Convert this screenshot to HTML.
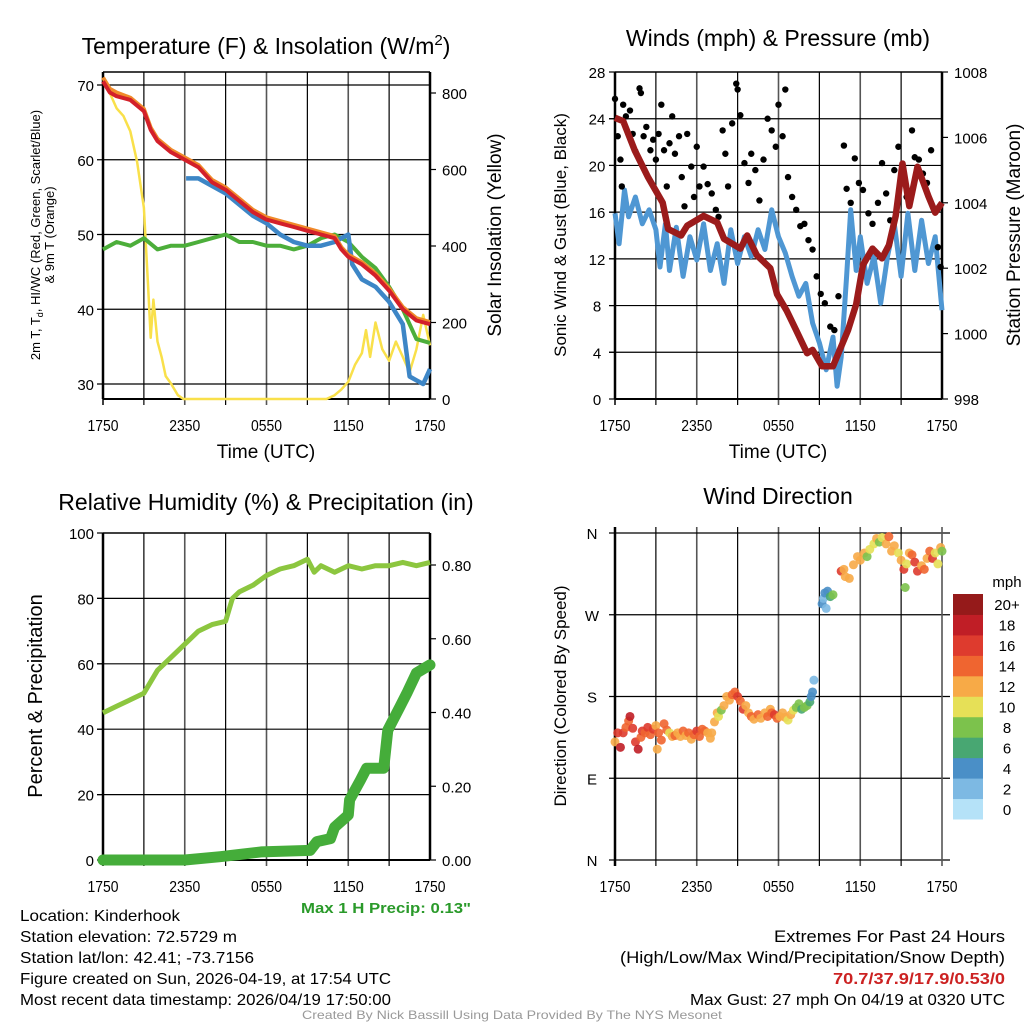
<!DOCTYPE html>
<html><head><meta charset="utf-8"><style>
html,body{margin:0;padding:0;background:#fff;}
svg{display:block;font-family:"Liberation Sans",sans-serif;}
</style></head><body>
<svg id="s" width="1024" height="1024" viewBox="0 0 1024 1024">
<g id="p1"></g>
<g id="p2"></g>
<g id="p3"></g>
<g id="p4"></g>
<g id="txt" lengthAdjust="spacingAndGlyphs">
<text x="20" y="921" font-size="16" textLength="160" lengthAdjust="spacingAndGlyphs">Location: Kinderhook</text>
<text x="20" y="942" font-size="16" textLength="217" lengthAdjust="spacingAndGlyphs">Station elevation: 72.5729 m</text>
<text x="20" y="963" font-size="16" textLength="234" lengthAdjust="spacingAndGlyphs">Station lat/lon: 42.41; -73.7156</text>
<text x="20" y="984" font-size="16" textLength="371" lengthAdjust="spacingAndGlyphs">Figure created on Sun, 2026-04-19, at 17:54 UTC</text>
<text x="20" y="1005" font-size="16" textLength="371" lengthAdjust="spacingAndGlyphs">Most recent data timestamp: 2026/04/19 17:50:00</text>
<text x="386" y="913" font-size="15" font-weight="bold" fill="#2a9a2a" text-anchor="middle" textLength="170" lengthAdjust="spacingAndGlyphs">Max 1 H Precip: 0.13"</text>
<text x="1005" y="942" font-size="17" text-anchor="end" textLength="231" lengthAdjust="spacingAndGlyphs">Extremes For Past 24 Hours</text>
<text x="1005" y="963" font-size="17" text-anchor="end" textLength="385" lengthAdjust="spacingAndGlyphs">(High/Low/Max Wind/Precipitation/Snow Depth)</text>
<text x="1005" y="984" font-size="16" font-weight="bold" fill="#cc2222" text-anchor="end" textLength="172" lengthAdjust="spacingAndGlyphs">70.7/37.9/17.9/0.53/0</text>
<text x="1005" y="1005" font-size="16" text-anchor="end" textLength="315" lengthAdjust="spacingAndGlyphs">Max Gust: 27 mph On 04/19 at 0320 UTC</text>
<text x="512" y="1019" font-size="12" fill="#999" text-anchor="middle" textLength="420" lengthAdjust="spacingAndGlyphs">Created By Nick Bassill Using Data Provided By The NYS Mesonet</text>
</g>
</svg>
<script>
// ---- Temperature panel data (hours since 1750 UTC) ----
const tT=[0,0.5,1,2,3,3.5,4,5,6,7,7.5,8,9,10,11,12,13,14,15,16,17,17.5,18,19,20,21,22,23,24];
const tempT=[70.5,69,68.5,68,66.5,64,62.5,61,60,59,58,57,56,54.5,53,52,51.5,51,50.5,50,49.5,48,47,46,44.5,42.5,40,38.5,38];
const t9m=[71,69.5,69,68.3,66.8,64.3,62.8,61.3,60.3,59.3,58.3,57.3,56.3,54.8,53.3,52.3,51.8,51.3,50.8,50.3,49.8,48.3,47.3,46.3,44.8,42.8,40.3,38.8,38.3];
const tHi=[6.1,7,8,9,10,11,12,13,14,15,16,17,17.5,18,18.3,19,20,21,22,22.5,23,23.5,24];
const hiwc=[57.5,57.5,56.5,55.5,54,52.5,51.5,50,49,48.5,48.5,49,49.5,50,46,44,43,41,38,31,30.5,30,32];
const tTd=[0,1,2,3,4,5,6,7,8,9,10,11,12,13,14,15,16,17,18,18.5,19,20,21,22,23,24];
const dewp=[48,49,48.5,49.5,48,48.5,48.5,49,49.5,50,49,49,48.5,48.5,48,48.5,49.5,50,49,48,47,45.5,43,40,36,35.5];
const tSol=[0,0.5,1,1.5,2,2.5,3,3.3,3.5,3.7,4,4.3,4.6,5,5.5,5.9,16.4,17,17.5,18,18.5,19,19.3,19.6,20,20.5,21,21.5,22,22.5,23,23.5,24];
const solar=[840,800,760,740,700,620,500,300,160,260,150,110,60,40,10,0,0,10,25,45,90,120,180,110,200,130,100,150,110,70,130,220,140];
// ---- Winds panel ----
const tWs=[0,0.3,0.7,1,1.5,2,2.5,3,3.3,3.7,4,4.5,5,5.5,6,6.5,7,7.5,8,8.5,9,9.5,10,10.5,11,11.5,12,12.5,13,13.5,14,14.5,15,15.5,16,16.3,16.6,17,17.3,17.7,18,18.5,19,19.5,20,20.5,21,21.5,22,22.5,23,23.5,24];
const wspd=[15.9,13.3,17.9,15.6,17.3,15,16.2,14.5,11.3,15,11,14.7,10.5,13.9,11.9,15,11,13.3,9.9,14.5,11.6,13.9,12.2,14.5,12.8,16.2,13.9,12.5,10.5,8.8,9.9,6.5,4.8,2.5,5.3,1.1,3.6,10.5,16.2,11,13.9,9.9,12.2,8.2,12.2,15,10.5,15.9,11,15.3,11.6,13.9,7.6];
const tG=[0,0.2,0.4,0.5,0.6,0.8,1.1,1.3,1.5,1.8,1.9,2.1,2.3,2.6,2.8,3,3.2,3.4,3.6,3.8,4,4.2,4.4,4.7,4.9,5.1,5.3,5.6,5.8,6,6.2,6.5,6.8,7.1,7.4,7.6,7.9,8.1,8.3,8.6,8.9,9,9.2,9.5,9.8,10,10.3,10.6,10.9,11.2,11.5,11.8,12,12.3,12.5,12.7,13,13.3,13.6,13.9,14.2,14.5,14.8,15.1,15.4,15.8,16.1,16.4,16.8,17,17.3,17.6,17.9,18.2,18.6,18.9,19.3,19.6,19.9,20.2,20.5,20.8,21.1,21.4,21.8,22,22.3,22.6,22.9,23.2,23.5,23.7,23.9];
const gust=[25.7,22.5,20.5,18.2,25.2,24.2,24.7,22.7,21.2,26.6,26.2,22.5,23.3,21.3,22.2,20.5,22.7,25.2,21.3,18.2,21.9,24.2,21,22.5,19,16.5,22.7,19.9,17.3,21.6,18.2,19.9,18.4,17.6,16.2,15.6,23,21,18.2,23.6,27,26.5,24.3,20.2,18.5,21,19.6,17,20.5,24,23,21.6,25.2,22.5,26.5,19,17.3,16.2,14.8,15,13.6,12.8,10.5,9,8.2,6.2,5.9,8.8,21.7,18,16.8,20.6,18.5,17.9,15.9,15,16.8,20.2,17.6,15.3,19.6,21.6,19.9,17.3,23,20.7,20.5,19.3,18.5,21.3,16.2,13,11.3];
const tP=[0,0.6,1.45,2.4,3.5,3.9,4.85,5.3,6.5,7.5,8,9.2,9.7,10.4,11.4,11.9,12.6,13.3,14.1,14.5,15.2,16,16.5,17.1,17.7,18.2,18.9,19.6,20.1,20.6,21.1,21.6,22.2,23,23.5,24];
const pres=[1006.6,1006.5,1005.6,1004.8,1004.0,1003.2,1003.0,1003.3,1003.6,1003.4,1002.9,1002.6,1003.0,1002.4,1002.0,1001.2,1000.7,1000.1,999.4,999.5,999.0,999.0,999.5,1000.1,1000.9,1002.1,1002.6,1002.3,1002.7,1003.6,1005.2,1003.9,1005.1,1004.2,1003.7,1004.0];
// ---- RH / precip panel ----
const tRH=[0,1,2,3,4,5,6,7,8,9,9.5,10,11,12,13,14,15,15.5,16,17,18,19,20,21,22,23,24];
const rh=[45,47,49,51,58,62,66,70,72,73,80,82,84,87,89,90,92,88,90,88,90,89,90,90,91,90,91];
const tPr=[0,6,8.6,10,11.6,15.2,15.7,16.7,17,18,18.1,18.9,19.35,20.6,20.9,21.8,22.3,23,24];
const precip=[0,0,0.009,0.015,0.022,0.026,0.05,0.058,0.089,0.122,0.163,0.217,0.249,0.249,0.352,0.416,0.452,0.507,0.529];
// ---- Wind direction panel ----
const tD=[0,0.2,0.4,0.6,0.8,1,1.1,1.3,1.5,1.7,1.9,2,2.2,2.4,2.6,2.8,3,3.1,3.2,3.4,3.6,3.8,4,4.2,4.4,4.6,4.8,5,5.2,5.4,5.6,5.8,6,6.2,6.4,6.6,6.8,7,7.1,7.3,7.5,7.6,7.8,8,8.2,8.4,8.6,8.8,9,9.2,9.4,9.6,9.8,10,10.2,10.5,10.7,11,11.2,11.4,11.5,11.7,11.9,12.1,12.3,12.5,12.7,12.9,13.1,13.3,13.5,13.7,13.9,14.1,14.3,14.4,14.5,14.6,15.2,15.3,15.4,15.5,15.6,15.8,16,16.6,16.8,16.9,17.2,17.5,17.8,18,18.3,18.5,18.7,19,19.2,19.4,19.6,19.9,20.1,20.3,20.5,20.8,21,21.2,21.3,21.4,21.6,21.8,22,22.2,22.5,22.7,22.9,23.1,23.3,23.5,23.7,23.9,24];
const dirDeg=[130,140,124,140,146,153,158,145,130,122,135,142,140,146,138,144,148,122,140,132,150,143,140,136,137,140,136,142,137,140,133,138,142,136,144,142,140,134,140,152,162,158,165,170,180,176,182,185,180,175,166,170,162,158,155,160,156,162,158,166,162,160,156,158,162,157,154,160,165,168,172,166,168,170,174,180,185,198,282,288,294,277,296,290,292,318,320,312,310,325,334,330,338,334,342,348,354,350,355,348,356,340,346,338,330,320,300,326,338,336,328,318,324,320,332,340,332,338,326,344,340];
const dirSpd=[13,17,18,16,14,15,19,17,16,18,15,16,14,17,15,16,12,12,14,14,15,14,10,13,14,13,12,14,12,14,12,15,16,14,14,15,13,12,12,12,12,10,8,12,12,13,14,14,16,14,16,12,13,14,12,14,12,13,15,12,14,16,14,12,13,12,10,12,10,9,8,7,8,8,7,4,4,2,4,3,4,2,4,7,8,16,12,13,12,12,12,12,13,8,10,10,12,8,11,12,14,12,13,11,12,17,8,10,12,14,16,16,12,14,12,14,16,11,10,12,8];
const spdColors=["#b5e2f8","#7db9e3","#4a8fc7","#48a772","#7cc24c","#e6e057","#f7aa47","#ef6530","#de3b2e","#c01e26","#951a1a"];
const spdLabels=["0","2","4","6","8","10","12","14","16","18","20+"];
const xTickLabels=["1750","2350","0550","1150","1750"];

const NS="http://www.w3.org/2000/svg";
function mk(parent,tag,attrs){const e=document.createElementNS(NS,tag);for(const k in attrs)e.setAttribute(k,attrs[k]);parent.appendChild(e);return e;}
function txt(parent,x,y,s,size,anchor,extra){const e=mk(parent,'text',Object.assign({x:x,y:y,'font-size':size,'text-anchor':anchor||'middle'},extra||{}));e.textContent=s;return e;}
function lin(a,b,c,d){return v=>c+(v-a)*(d-c)/(b-a);}
function path(xs,ys,fx,fy){return xs.map((t,i)=>(i?'L':'M')+fx(t).toFixed(1)+','+fy(ys[i]).toFixed(1)).join('');}

function frame(g,L,R,T,B,xs,hLines,fy){
  for(let h=3;h<24;h+=3){const x=xs(h);const ln=mk(g,'line',{x1:x,x2:x,y1:T,y2:B+6,stroke:(h%6==0?'#555':'#000'),'stroke-width':(h%6==0?1.6:1.2)});
    }
  hLines.forEach(v=>{const y=fy(v);const ln=mk(g,'line',{x1:L-6,x2:R,y1:y,y2:y,stroke:'#000','stroke-width':1.2});
    });
  const ax=mk(g,'line',{x1:L,x2:L,y1:T,y2:B,stroke:'#000','stroke-width':2.5});
  const bx=mk(g,'line',{x1:L,x2:R,y1:B,y2:B,stroke:'#000','stroke-width':2});
  const ax2=mk(g,'line',{x1:L,x2:L,y1:B,y2:B+6,stroke:'#000','stroke-width':1.5});
  
  xTickLabels.forEach((s,i)=>{const t=txt(g,xs(i*6),B+32,s,16,'middle',{textLength:31,lengthAdjust:'spacingAndGlyphs'});
    });
}

// ===== Panel 1 =====
(function(){
  const g=document.getElementById('p1');const L=103,R=430,T=72,B=399;
  const fx=lin(0,24,L,R), fy=lin(30,70,384,85), fs=lin(0,800,399,93);
  frame(g,L,R,T,B,fx,[30,40,50,60,70],fy);
  const rx=mk(g,'line',{x1:R,x2:R,y1:T,y2:B,stroke:'#000','stroke-width':2.5});
  const tp=mk(g,'line',{x1:L,x2:R,y1:T,y2:T,stroke:'#000','stroke-width':1.5});
  [30,40,50,60,70].forEach(v=>{const t=txt(g,L-9,fy(v)+6,String(v),15,'end');});
  [0,200,400,600,800].forEach(v=>{const t=txt(g,R+12,fs(v)+6,String(v),15,'start');
    const k=mk(g,'line',{x1:R,x2:R+6,y1:fs(v),y2:fs(v),stroke:'#000','stroke-width':1.2});});
  const series=[[tSol,solar,fs,'#f9e04a',2.5,'solar-line'],[tTd,dewp,fy,'#4cae3a',4,'dewpoint-line'],[tHi,hiwc,fy,'#3d86c6',4.5,'heat-index-line'],[tT,t9m,fy,'#f08a2a',4,'temp-9m-line'],[tT,tempT,fy,'#d3202a',4,'temp-2m-line']];
  series.forEach(s=>{const p=mk(g,'path',{d:path(s[0],s[1],fx,s[2]),fill:'none',stroke:s[3],'stroke-width':s[4],'stroke-linejoin':'round'});
    });
  const t=txt(g,266,54,'',23);
  t.innerHTML='Temperature (F) &amp; Insolation (W/m<tspan dy="-9" font-size="15">2</tspan><tspan dy="9">)</tspan>';
  const yl=mk(g,'text',{transform:'translate(40,235) rotate(-90)','font-size':13,'text-anchor':'middle'});
  yl.innerHTML='2m T, T<tspan dy="3" font-size="9">d</tspan><tspan dy="-3">, HI/WC (Red, Green, Scarlet/Blue)</tspan>';
  const yl2=txt(g,0,0,'& 9m T (Orange)',13,'middle',{transform:'translate(54,235) rotate(-90)'});
  const yr=txt(g,0,0,'Solar Insolation (Yellow)',19,'middle',{transform:'translate(501,235) rotate(-90)'});
  const xl=txt(g,266,458,'Time (UTC)',19);
})();

// ===== Panel 2 =====
(function(){
  const g=document.getElementById('p2');const L=615,R=942,T=72,B=399;
  const fx=lin(0,24,L,R), fy=lin(0,28,399,72), fp=lin(998,1008,399,72);
  frame(g,L,R,T,B,fx,[4,8,12,16,20,24],fy);
  const rx=mk(g,'line',{x1:R,x2:R,y1:T,y2:B,stroke:'#000','stroke-width':2.5});
  const tp=mk(g,'line',{x1:L,x2:R,y1:T,y2:T,stroke:'#000','stroke-width':1.5});
  [0,4,8,12,16,20,24,28].forEach(v=>{const t=txt(g,L-18,fy(v)+6,String(v),15,'middle');
    const k=mk(g,'line',{x1:L-6,x2:L,y1:fy(v),y2:fy(v),stroke:'#000','stroke-width':1.2});});
  [998,1000,1002,1004,1006,1008].forEach(v=>{const t=txt(g,R+12,fp(v)+6,String(v),15,'start');
    const k=mk(g,'line',{x1:R,x2:R+6,y1:fp(v),y2:fp(v),stroke:'#000','stroke-width':1.2});});
  const w=mk(g,'path',{d:path(tWs,wspd,fx,fy),fill:'none',stroke:'#4f97d3','stroke-width':5,'stroke-linejoin':'round'});
  tG.forEach((t,i)=>{const c=mk(g,'circle',{cx:fx(t),cy:fy(gust[i]),r:3.2,fill:'#000'});});
  const p=mk(g,'path',{d:path(tP,pres,fx,fp),fill:'none',stroke:'#9b1b1b','stroke-width':6.5,'stroke-linejoin':'round'});
  const t=txt(g,778,46,'Winds (mph) & Pressure (mb)',23);
  const yl=txt(g,0,0,'Sonic Wind & Gust (Blue, Black)',17,'middle',{transform:'translate(566,235) rotate(-90)'});
  const yr=txt(g,0,0,'Station Pressure (Maroon)',19,'middle',{transform:'translate(1020,235) rotate(-90)'});
  const xl=txt(g,778,458,'Time (UTC)',19);
})();

// ===== Panel 3 =====
(function(){
  const g=document.getElementById('p3');const L=103,R=430,T=533,B=860;
  const fx=lin(0,24,L,R), fy=lin(0,100,860,533), fr=lin(0,0.8,860,565);
  frame(g,L,R,T,B,fx,[20,40,60,80],fy);
  const rx=mk(g,'line',{x1:R,x2:R,y1:T,y2:B,stroke:'#000','stroke-width':2.5});
  const tp=mk(g,'line',{x1:L,x2:R,y1:T,y2:T,stroke:'#000','stroke-width':1.5});
  [0,20,40,60,80,100].forEach(v=>{const t=txt(g,L-9,fy(v)+6,String(v),15,'end');
    const k=mk(g,'line',{x1:L-6,x2:L,y1:fy(v),y2:fy(v),stroke:'#000','stroke-width':1.2});});
  ['0.00','0.20','0.40','0.60','0.80'].forEach(s=>{const v=parseFloat(s);const t=txt(g,R+12,fr(v)+6,s,15,'start');
    const k=mk(g,'line',{x1:R,x2:R+6,y1:fr(v),y2:fr(v),stroke:'#000','stroke-width':1.2});});
  const r=mk(g,'path',{d:path(tRH,rh,fx,fy),fill:'none',stroke:'#8cc63f','stroke-width':5,'stroke-linejoin':'round'});
  const p=mk(g,'path',{d:path(tPr,precip,fx,fr),fill:'none',stroke:'#45ad3a','stroke-width':11,'stroke-linejoin':'round','stroke-linecap':'round'});
  const t=txt(g,266,510,'Relative Humidity (%) & Precipitation (in)',23);
  const yl=txt(g,0,0,'Percent & Precipitation',20,'middle',{transform:'translate(42,696) rotate(-90)'});
})();

// ===== Panel 4 =====
(function(){
  const g=document.getElementById('p4');const L=615,R=942,T=533,B=860;
  const fx=lin(0,24,L,R), fy=lin(0,360,860,533);
  for(let h=3;h<24;h+=3){const x=fx(h);const ln=mk(g,'line',{x1:x,x2:x,y1:T-6,y2:B+6,stroke:(h%6==0?'#555':'#000'),'stroke-width':(h%6==0?1.6:1.2)});}
  [0,90,180,270,360].forEach(v=>{const y=fy(v);const ln=mk(g,'line',{x1:L-6,x2:R+8,y1:y,y2:y,stroke:'#000','stroke-width':1.2});});
  const ax=mk(g,'line',{x1:L,x2:L,y1:T-6,y2:B+6,stroke:'#000','stroke-width':2.5});
  const rx=mk(g,'line',{x1:R,x2:R,y1:T-6,y2:B+6,stroke:'#555','stroke-width':1.6});
  ['N','E','S','W','N'].forEach((s,i)=>{const t=txt(g,L-23,fy(i*90)+6,s,15,'middle');});
  xTickLabels.forEach((s,i)=>{const t=txt(g,fx(i*6),B+32,s,16,'middle',{textLength:31,lengthAdjust:'spacingAndGlyphs'});});
  tD.forEach((t,i)=>{const b=Math.min(10,Math.floor(dirSpd[i]/2));const c=mk(g,'circle',{cx:fx(t),cy:fy(dirDeg[i]),r:4.5,fill:spdColors[b],'fill-opacity':0.9});
    });
  const bt=594,bh=225/11;
  spdColors.forEach((col,i)=>{const y=bt+(10-i)*bh;const r=mk(g,'rect',{x:953,y:y,width:30,height:bh+0.5,fill:col});
    const t=txt(g,1007,y+bh/2+6,spdLabels[i],15,'middle');});
  const m=txt(g,1007,587,'mph',15,'middle');
  const t=txt(g,778,504,'Wind Direction',23);
  const yl=txt(g,0,0,'Direction (Colored By Speed)',17,'middle',{transform:'translate(566,696) rotate(-90)'});
})();
</script>
</body></html>
